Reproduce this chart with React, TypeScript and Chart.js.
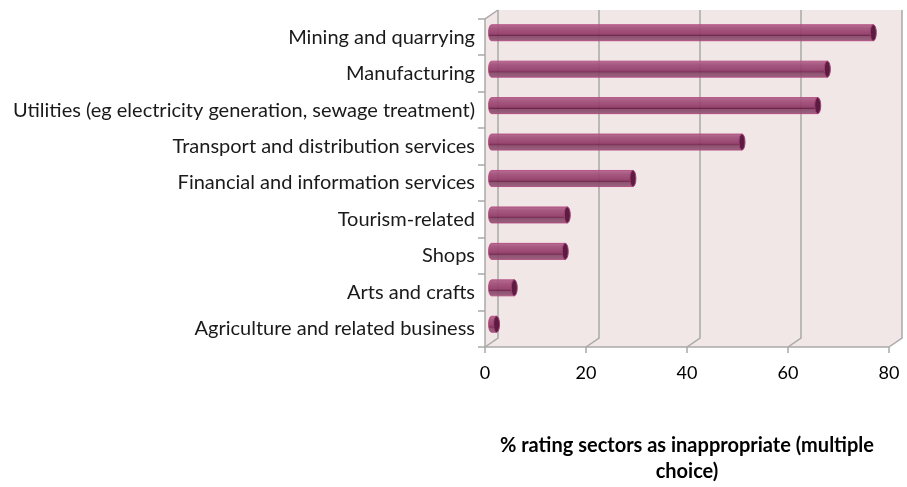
import React, { useEffect, useRef } from "react";
import { Chart, registerables } from "chart.js";
Chart.register(...registerables);

const categories = [
  "Mining and quarrying",
  "Manufacturing",
  "Utilities (eg electricity generation, sewage treatment)",
  "Transport and distribution services",
  "Financial and information services",
  "Tourism-related",
  "Shops",
  "Arts and crafts",
  "Agriculture and related business",
];
const values = [75.6, 66.5, 64.6, 49.6, 28, 15, 14.6, 4.5, 1];
const xTickValues = [0, 20, 40, 60, 80];
const axisTitle = ["% rating sectors as inappropriate (multiple", "choice)"];

const DX = 13;
const DY = -9;
const WALL = "#f2e7e7";
const GRID = "#a9a9a9";

const wallPlugin = {
  id: "walls3d",
  beforeDatasetsDraw(chart: any) {
    const { ctx, chartArea: a, scales } = chart;
    const x = scales.x;
    const L = x.getPixelForValue(0);
    const R = x.getPixelForValue(80);
    const T = a.top;
    const B = a.bottom;
    ctx.save();
    ctx.fillStyle = WALL;
    ctx.beginPath();
    ctx.moveTo(L + DX, T + DY);
    ctx.lineTo(R + DX, T + DY);
    ctx.lineTo(R + DX, B + DY);
    ctx.lineTo(L + DX, B + DY);
    ctx.closePath();
    ctx.fill();
    ctx.beginPath();
    ctx.moveTo(L, T);
    ctx.lineTo(L + DX, T + DY);
    ctx.lineTo(L + DX, B + DY);
    ctx.lineTo(L, B);
    ctx.closePath();
    ctx.fill();
    ctx.beginPath();
    ctx.moveTo(L, B);
    ctx.lineTo(L + DX, B + DY);
    ctx.lineTo(R + DX, B + DY);
    ctx.lineTo(R, B);
    ctx.closePath();
    ctx.fill();

    ctx.strokeStyle = GRID;
    ctx.lineWidth = 1.5;
    xTickValues.forEach((v) => {
      const px = Math.round(x.getPixelForValue(v));
      ctx.beginPath();
      ctx.moveTo(px + DX, T + DY);
      ctx.lineTo(px + DX, B + DY);
      ctx.lineTo(px, B);
      ctx.stroke();
      ctx.beginPath();
      ctx.moveTo(px, B);
      ctx.lineTo(px, B + 6);
      ctx.stroke();
    });
    ctx.beginPath();
    ctx.moveTo(L + DX, T + DY);
    ctx.lineTo(L, T);
    ctx.lineTo(L, B);
    ctx.lineTo(R, B);
    ctx.stroke();
    const n = categories.length;
    for (let i = 0; i <= n; i++) {
      const yb = Math.round(T + (i * (B - T)) / n);
      ctx.beginPath();
      ctx.moveTo(L - 7, yb);
      ctx.lineTo(L, yb);
      ctx.stroke();
    }
    ctx.restore();
  },
  afterDatasetsDraw(chart: any) {
    const { ctx } = chart;
    const meta = chart.getDatasetMeta(0);
    ctx.save();
    meta.data.forEach((el: any) => {
      const p = el.getProps(["x", "y", "base", "height"], true);
      const x0 = p.base + DX / 2;
      const x1 = p.x + DX / 2;
      const cy = p.y + DY / 2;
      const r = p.height / 2;
      const rx = 3;
      const top = cy - r;
      const g = ctx.createLinearGradient(0, top, 0, cy + r);
      g.addColorStop(0, "rgba(178,100,140,0.92)");
      g.addColorStop(0.2, "rgba(162,78,121,0.92)");
      g.addColorStop(0.55, "rgba(145,58,103,0.92)");
      g.addColorStop(0.64, "rgba(128,45,90,0.93)");
      g.addColorStop(0.68, "rgba(100,30,68,0.95)");
      g.addColorStop(0.72, "rgba(135,68,102,0.92)");
      g.addColorStop(1, "rgba(145,88,118,0.92)");
      ctx.beginPath();
      ctx.moveTo(x0, top);
      ctx.lineTo(x1, top);
      ctx.lineTo(x1, cy + r);
      ctx.lineTo(x0, cy + r);
      ctx.ellipse(x0, cy, rx, r, 0, Math.PI / 2, (3 * Math.PI) / 2);
      ctx.closePath();
      ctx.fillStyle = g;
      ctx.fill();
      ctx.strokeStyle = "rgba(176,70,124,0.85)";
      ctx.lineWidth = 1;
      ctx.stroke();
      ctx.beginPath();
      ctx.ellipse(x1, cy, rx, r, 0, 0, Math.PI * 2);
      ctx.fillStyle = "#5c1c40";
      ctx.fill();
      ctx.strokeStyle = "#a23e76";
      ctx.lineWidth = 1;
      ctx.stroke();
    });
    ctx.restore();
  },
};

export default function App() {
  const ref = useRef<HTMLCanvasElement | null>(null);
  useEffect(() => {
    if (!ref.current) return;
    const chart = new Chart(ref.current, {
      type: "bar",
      data: {
        labels: categories,
        datasets: [
          {
            data: values,
            backgroundColor: "rgba(0,0,0,0)",
            borderWidth: 0,
            barPercentage: 0.44,
            categoryPercentage: 1,
          },
        ],
      },
      options: {
        indexAxis: "y",
        animation: false,
        responsive: true,
        maintainAspectRatio: false,
        layout: { padding: { top: 19, right: 18, bottom: 0, left: 0 } },
        plugins: {
          legend: { display: false },
          tooltip: { enabled: false },
          title: { display: false },
        },
        scales: {
          x: {
            min: 0,
            max: 80,
            afterFit: (s: any) => {
              s.height = 140;
              s.paddingLeft = 0;
              s.paddingRight = 0;
            },
            afterBuildTicks: (s: any) => {
              s.ticks = xTickValues.map((v) => ({ value: v }));
            },
            grid: { display: false, drawTicks: false },
            border: { display: false },
            ticks: {
              padding: 15,
              color: "#000",
              font: { family: "Lato", size: 18 },
            },
            title: {
              display: true,
              text: axisTitle,
              color: "#000",
              font: { family: "Lato", size: 20, weight: "bold", lineHeight: "26px" },
              padding: { top: 0, bottom: 2 },
            },
          },
          y: {
            afterFit: (s: any) => {
              s.width = 485;
              s.paddingTop = 0;
              s.paddingBottom = 0;
            },
            grid: { display: false, drawTicks: false },
            border: { display: false },
            ticks: {
              padding: 10,
              color: "#1a1a1a",
              font: { family: "Lato", size: 20 },
            },
          },
        },
      },
      plugins: [wallPlugin],
    } as any);
    return () => chart.destroy();
  }, []);
  return (
    <div style={{ position: "fixed", left: 0, top: 0, width: 907, height: 487, background: "#fff" }}>
      <canvas ref={ref} />
    </div>
  );
}
